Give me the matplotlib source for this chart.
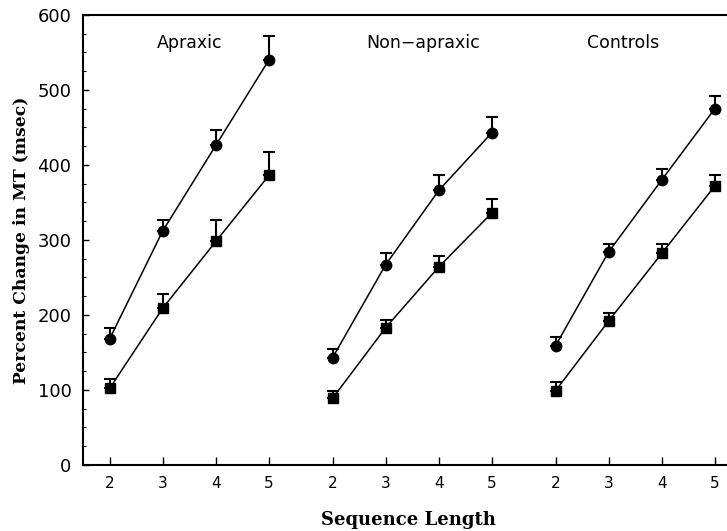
# график: процентное изменение MT по длине последовательности
import numpy as np
import matplotlib.pyplot as plt

# длины последовательностей и группы
seq_len = [2, 3, 4, 5]
groups = ["Apraxic", "Non\u2212apraxic", "Controls"]
group_offset = [0, 4.2, 8.4]

# кружки (верхняя серия)
circ_mean = [[168, 312, 426, 540],
             [143, 267, 366, 443],
             [159, 284, 380, 475]]
circ_err = [[14, 14, 20, 32],
            [11, 16, 20, 21],
            [11, 11, 15, 17]]

# квадраты (нижняя серия)
sq_mean = [[102, 209, 298, 386],
           [89, 183, 264, 336],
           [99, 192, 282, 372]]
sq_err = [[13, 19, 28, 31],
          [10, 10, 14, 18],
          [11, 11, 12, 14]]

fig = plt.figure(figsize=(7.27, 5.31), dpi=100)
ax = fig.add_axes([0.1135, 0.1243, 0.8865, 0.8475])

# сдвиг подписей групп относительно центра
label_shift = [0, 0.2, -0.23]

xticks = []
xlabels = []
for g in range(len(groups)):
    x = np.array(seq_len) - 2 + group_offset[g]
    xticks += list(x)
    xlabels += [str(s) for s in seq_len]
    # верхняя серия (кружки)
    ax.errorbar(x, circ_mean[g], yerr=[np.zeros(4), circ_err[g]], fmt='-o',
                color='black', ms=7.5, lw=1.1, elinewidth=1.5, capsize=4, capthick=1.5)
    # нижняя серия (квадраты)
    ax.errorbar(x, sq_mean[g], yerr=[np.zeros(4), sq_err[g]], fmt='-s',
                color='black', ms=7.5, lw=1.1, elinewidth=1.5, capsize=4, capthick=1.5)
    # подпись группы
    ax.text(x.mean() + label_shift[g], 562, groups[g], ha='center', va='center',
            fontsize=12.5, family='DejaVu Sans')

ax.set_xlim(-0.51, 11.63)
ax.set_ylim(0, 600)
ax.set_xticks(xticks)
ax.set_xticklabels(xlabels, fontsize=11)
ax.set_yticks(np.arange(0, 601, 100))
ax.set_yticks(np.arange(0, 601, 25), minor=True)
ax.tick_params(axis='y', direction='in', length=4, width=1, labelsize=13, pad=8)
ax.tick_params(axis='y', which='minor', direction='in', length=2, width=0.8)
ax.tick_params(axis='x', direction='in', length=6, width=1, pad=8)

ax.spines['right'].set_visible(False)
for s in ['left', 'bottom', 'top']:
    ax.spines[s].set_linewidth(1.5)

ax.set_ylabel('Percent Change in MT (msec)', family='DejaVu Serif', fontweight='bold',
              fontsize=12.3)
ax.yaxis.set_label_coords(-0.081, 0.5)
ax.set_xlabel('Sequence Length', family='DejaVu Serif', fontweight='bold',
              fontsize=13)
ax.xaxis.set_label_coords(0.505, -0.102)

fig.savefig('out.png', dpi=100)
